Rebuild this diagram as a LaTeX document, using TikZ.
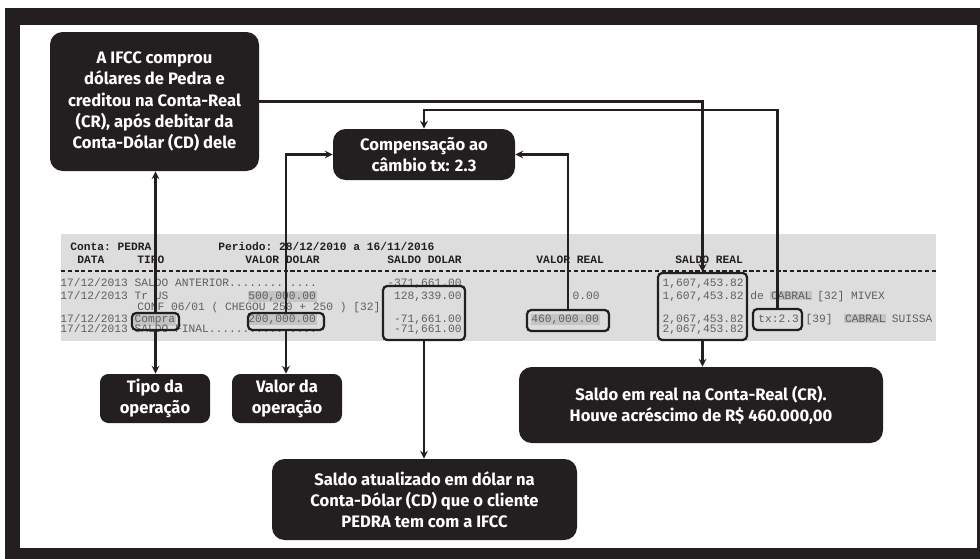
\documentclass[tikz,border=0pt]{standalone}
\usepackage{fontspec}
\setmainfont{Fira Sans}
\setmonofont{Liberation Mono}
\usepackage{xcolor}
\usepackage{tikz}
\usetikzlibrary{positioning}

\definecolor{frameblack}{RGB}{35,31,32}
\definecolor{scangray}{RGB}{221,221,221}
\definecolor{markgray}{RGB}{196,196,196}
\definecolor{printgray}{RGB}{95,95,95}

\newlength{\pxlen}
\setlength{\pxlen}{0.025cm}

\tikzset{
  darkbox/.style={fill=frameblack, text=white, rounded corners=9pt, align=center,
    font=\bfseries\fontsize{11.8}{15}\selectfont, inner sep=0pt},
  markbox/.style={draw=frameblack, line width=1.6pt, rounded corners=3pt, inner sep=0pt},
  scantext/.style={font=\ttfamily\fontsize{8}{8}\selectfont, text=printgray,
    inner sep=0pt, anchor=base west},
  scanhead/.style={scantext, text=frameblack, font=\ttfamily\bfseries\fontsize{8}{8}\selectfont},
  marked/.style={fill=markgray, inner sep=0.6pt},
  link/.style={->, line width=1.5pt, draw=frameblack},
}

\begin{document}
\begin{tikzpicture}[x=0.025cm, y=-0.025cm, >=stealth]

    % Frame
    \fill[white] (0,0) rectangle (980,559);
    \fill[frameblack] (5,8) rectangle (980,559);
    \fill[white] (20,25) rectangle (977,548);

    % Scanned statement of the account
    \fill[scangray] (61,234) rectangle (936,341);

    \node[scanhead] (conta) at (70,250.5) {Conta: PEDRA};
    \node[scanhead] (periodo) at (218,250.5) {Periodo: 28/12/2010 a 16/11/2016};
    \node[scanhead] (hdata) at (77,263.5) {DATA};
    \node[scanhead] (htipo) at (137,263.5) {TIPO};
    \node[scanhead] (hvalordolar) at (245,263.5) {VALOR DOLAR};
    \node[scanhead] (hsaldodolar) at (387,263.5) {SALDO DOLAR};
    \node[scanhead] (hvalorreal) at (536,263.5) {VALOR REAL};
    \node[scanhead] (hsaldoreal) at (675,263.5) {SALDO REAL};
    \draw[frameblack, line width=0.9pt, dash pattern=on 3pt off 1.8pt] (61,271) -- (936,271);

    \node[scantext] (r1date) at (60,286.5) {17/12/2013 SALDO ANTERIOR.............};
    \node[scantext, anchor=base east] (r1sd) at (462,286.5) {-371,661.00};
    \node[scantext, anchor=base east] (r1sr) at (744,286.5) {1,607,453.82};

    \node[scantext] (r2date) at (60,299.5) {17/12/2013 Tr US};
    \node[scantext, marked, anchor=base east] (r2vd) at (317,299.5) {500,000.00};
    \node[scantext, anchor=base east] (r2sd) at (462,299.5) {128,339.00};
    \node[scantext, anchor=base east] (r2vr) at (600,299.5) {0.00};
    \node[scantext, anchor=base east] (r2sr) at (744,299.5) {1,607,453.82};
    \node[scantext] (r2de) at (750,299.5) {de};
    \node[scantext, marked] (r2cabral) at (770,299.5) {CABRAL};
    \node[scantext] (r2obs) at (817,299.5) {[32] MIVEX};

    \node[scantext] (r3conf) at (137,310.5) {CONF 06/01 ( CHEGOU 250 + 250 ) [32]};

    \node[scantext] (r4date) at (60,322.5) {17/12/2013};
    \node[scantext, marked] (r4tipo) at (133.5,322.5) {Compra};
    \node[scantext, marked, anchor=base east] (r4vd) at (317,322.5) {200,000.00};
    \node[scantext, anchor=base east] (r4sd) at (462,322.5) {-71,661.00};
    \node[scantext, marked, anchor=base east] (r4vr) at (600,322.5) {460,000.00};
    \node[scantext, anchor=base east] (r4sr) at (744,322.5) {2,067,453.82};
    \node[scantext] (r4tx) at (758,322.5) {tx:2.3 [39]};
    \node[scantext, marked] (r4cabral) at (844,322.5) {CABRAL};
    \node[scantext] (r4suissa) at (891.5,322.5) {SUISSA};

    \node[scantext] (r5date) at (60,332.5) {17/12/2013 SALDO FINAL................};
    \node[scantext, anchor=base east] (r5sd) at (462,332.5) {-71,661.00};
    \node[scantext, anchor=base east] (r5sr) at (744,332.5) {2,067,453.82};

    % Marked cells
    \node[markbox, minimum width=47\pxlen, minimum height=17\pxlen] (hlcompra) at (155.5,321.5) {};
    \node[markbox, minimum width=76\pxlen, minimum height=17\pxlen] (hlvalordolar) at (286,321.5) {};
    \node[markbox, minimum width=82\pxlen, minimum height=54\pxlen] (hlsaldodolar) at (424,313) {};
    \node[markbox, minimum width=82\pxlen, minimum height=21\pxlen] (hlvalorreal) at (568,320.5) {};
    \node[markbox, minimum width=89\pxlen, minimum height=67\pxlen] (hlsaldoreal) at (702.5,306.5) {};
    \node[markbox, minimum width=49\pxlen, minimum height=21\pxlen] (hltx) at (777.5,319.5) {};

    % Explanations
    \node[darkbox, minimum width=209\pxlen, minimum height=139\pxlen] (ifcc) at (154.5,101.5)
        {A IFCC comprou\\dólares de Pedra e\\creditou na Conta-Real\\(CR), após debitar da\\Conta-Dólar (CD) dele};
    \node[darkbox, minimum width=182\pxlen, minimum height=51\pxlen] (compensacao) at (424,154.5)
        {Compensação ao\\câmbio tx: 2.3};
    \node[darkbox, rounded corners=6pt, minimum width=110\pxlen, minimum height=49\pxlen] (tipo) at (155,398.5)
        {Tipo da\\operação};
    \node[darkbox, rounded corners=6pt, minimum width=110\pxlen, minimum height=49\pxlen] (valor) at (287,398.5)
        {Valor da\\operação};
    \node[darkbox, minimum width=305\pxlen, minimum height=81\pxlen] (saldoatual) at (424.5,499.5)
        {Saldo atualizado em dólar na\\Conta-Dólar (CD) que o cliente\\PEDRA tem com a IFCC};
    \node[darkbox, minimum width=364\pxlen, minimum height=76\pxlen] (saldoemreal) at (701,405)
        {Saldo em real na Conta-Real (CR).\\Houve acréscimo de R\$ 460.000,00};

    % Arrows from the marked cells
    \draw[link] (hlcompra.north) -- (hlcompra.north |- ifcc.south);
    \draw[link] (hlcompra.south) -- (hlcompra.south |- tipo.north);
    \draw[link] (hlvalordolar.north) |- (compensacao.west);
    \draw[link] (hlvalordolar.south) -- (hlvalordolar.south |- valor.north);
    \draw[link] (hlsaldodolar.south) -- (hlsaldodolar.south |- saldoatual.north);
    \draw[link] (hlvalorreal.north) |- (compensacao.east);
    \coordinate (txtop) at (hltx.north |- 0,110);
    \draw[link] (hltx.north) -- (txtop) -| (compensacao.north);
    \draw[link] (ifcc.east) -| (hlsaldoreal.north);
    \draw[link] (hlsaldoreal.south) -- (hlsaldoreal.south |- saldoemreal.north);

\end{tikzpicture}
\end{document}
